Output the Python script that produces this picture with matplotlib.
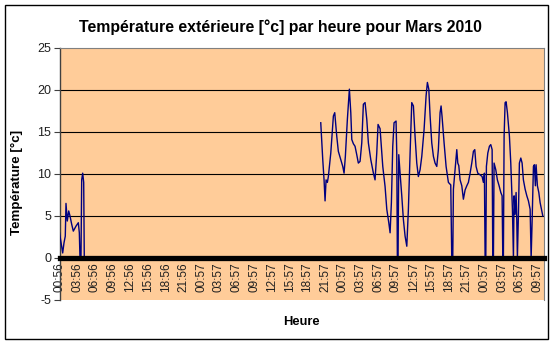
import matplotlib
matplotlib.use("Agg")
import matplotlib.pyplot as plt
import numpy as np
from matplotlib.patches import Rectangle

plt.rcParams["font.family"] = ["Liberation Sans", "DejaVu Sans"]
plt.rcParams["axes.unicode_minus"] = False

# hours since the first reading (00:56), temperatures
HOURS_A = [0.0, 0.54, 0.76, 0.98, 1.1, 1.32, 1.56, 1.78, 2.07, 2.34, 2.8, 3.19,
           3.36, 3.47, 3.64, 3.76, 3.93, 4.1, 4.2]
TEMPS_A = [3.0, 0.6, 1.8, 2.6, 6.5, 4.4, 5.6, 5.0, 4.0, 3.2, 3.8, 4.2,
           3.0, 0.0, 0.0, 9.3, 10.1, 9.0, 0.0]

HOURS_B = [44.27, 44.61, 44.83, 45.0, 45.17, 45.39, 45.56, 45.97, 46.41, 46.64,
           46.98, 47.25, 47.66, 48.0, 48.22, 48.44, 48.78, 49.12, 49.36, 49.53,
           49.8, 50.08, 50.37, 50.64, 50.93, 51.22, 51.49, 51.78, 52.07, 52.34,
           52.75, 53.19, 53.47, 53.76, 53.98, 54.32, 54.49, 54.78, 55.17, 55.46,
           55.8, 56.02, 56.24, 56.47, 56.69, 57.03, 57.15, 57.25, 57.37, 57.49,
           57.71, 58.0, 58.27, 58.56, 58.85, 59.12, 59.41, 59.69, 59.97, 60.25,
           60.54, 60.81, 61.1, 61.39, 61.78, 62.12, 62.34, 62.58, 62.8, 63.08,
           63.36, 63.64, 63.93, 64.2, 64.49, 64.66, 64.83, 65.17, 65.51, 65.9,
           66.3, 66.47, 66.64, 66.75, 67.03, 67.32, 67.49, 67.66, 67.88, 68.17,
           68.44, 68.73, 69.02, 69.29, 69.58, 69.86, 70.14, 70.37, 70.59, 70.88,
           71.27, 71.61, 71.83, 72.0, 72.12, 72.24, 72.34, 72.58, 72.85, 73.08,
           73.31, 73.42, 73.53, 73.64, 73.93, 74.2, 74.49, 74.78, 75.0, 75.12,
           75.22, 75.34, 75.51, 75.68, 75.9, 76.24, 76.47, 76.75, 76.92, 77.03,
           77.2, 77.37, 77.49, 77.59, 77.76, 77.93, 78.17, 78.39, 78.61, 78.9,
           79.19, 79.46, 79.75, 79.92, 80.08, 80.31, 80.47, 80.64, 80.76, 80.98,
           81.22, 81.44, 81.78, 81.9]
TEMPS_B = [16.1, 11.7, 9.3, 6.8, 9.3, 9.0, 9.7, 12.5, 16.9, 17.3,
           14.5, 12.7, 11.7, 10.9, 10.1, 12.1, 16.5, 20.1, 17.3, 14.1,
           13.6, 13.3, 12.3, 11.3, 11.5, 13.7, 18.3, 18.5, 16.5, 13.7,
           11.7, 10.1, 9.3, 12.5, 15.9, 15.4, 13.7, 10.9, 8.5, 5.8,
           4.2, 3.0, 6.6, 13.3, 16.1, 16.3, 12.5, 0.0, 0.0, 12.3,
           10.1, 7.4, 4.6, 2.6, 1.4, 5.8, 12.5, 18.5, 18.1, 14.5,
           11.3, 9.7, 10.5, 12.1, 15.3, 19.3, 20.9, 20.1, 16.9, 13.7,
           12.1, 11.3, 10.9, 12.9, 17.3, 18.1, 16.8, 13.7, 10.9, 9.0,
           8.7, 0.0, 0.0, 8.2, 10.5, 12.9, 11.3, 11.0, 9.3, 8.6,
           7.0, 8.1, 8.6, 9.0, 10.1, 11.3, 12.7, 12.9, 10.9, 10.1,
           9.9, 9.7, 9.0, 10.1, 0.0, 0.0, 10.9, 12.5, 13.3, 13.5,
           12.9, 0.0, 0.0, 11.3, 10.5, 9.3, 8.6, 7.8, 7.4, 0.0,
           0.0, 14.5, 18.5, 18.6, 17.3, 14.5, 11.3, 5.8, 0.0, 7.4,
           5.2, 7.8, 4.4, 0.0, 5.0, 11.3, 11.9, 11.3, 9.3, 8.2,
           7.4, 6.8, 5.8, 0.0, 4.2, 10.9, 11.1, 8.6, 11.1, 8.6,
           7.8, 6.6, 5.4, 5.0]

TICK_LABELS = ["00:56", "03:56", "06:56", "09:56", "12:56", "15:56", "18:56", "21:56",
               "00:57", "03:57", "06:57", "09:57", "12:57", "15:57", "18:57", "21:57",
               "00:57", "03:57", "06:57", "09:57", "12:57", "15:57", "18:57", "21:57",
               "00:57", "03:57", "06:57", "09:57"]
TICK_HOURS = np.arange(len(TICK_LABELS)) * 3

fig = plt.figure(figsize=(5.55, 3.44), dpi=100)
fig.patch.set_facecolor("white")
fig.patches.append(Rectangle((5 / 555, 5 / 344), 543 / 555, 334 / 344, transform=fig.transFigure,
                             fill=False, edgecolor="black", lw=1.0))

ax = fig.add_axes([59.5 / 555, 44 / 344, 484.5 / 555, 252 / 344])
ax.set_facecolor("#FFCC99")

hours = HOURS_A + [np.nan] + HOURS_B
temps = TEMPS_A + [np.nan] + TEMPS_B
ax.plot(hours, temps, color="#000080", lw=1.0, zorder=3)

ax.set_xlim(0, 82.1)
ax.set_ylim(-5, 25)
ax.set_yticks(range(-5, 26, 5))
for v in range(5, 25, 5):
    ax.axhline(v, color="black", lw=0.8, zorder=1)

ax.spines["bottom"].set_position(("data", 0))
ax.spines["bottom"].set_linewidth(3.8)
ax.spines["bottom"].set_color("black")
ax.spines["bottom"].set_zorder(4)
ax.spines["left"].set_color("#404040")
ax.spines["left"].set_linewidth(1.0)
ax.spines["top"].set_color("#808080")
ax.spines["right"].set_color("#808080")
ax.spines["top"].set_linewidth(0.8)
ax.spines["right"].set_linewidth(0.8)

ax.set_xticks(TICK_HOURS)
ax.set_xticklabels(TICK_LABELS, rotation=90, fontsize=8.5, color="#202020")
ax.tick_params(axis="x", length=0, pad=3)
ax.tick_params(axis="y", length=4, color="#404040", labelsize=9, labelcolor="#202020", pad=2)

fig.text(0.505, 1 - 27 / 344, "Température extérieure [°c] par heure pour Mars 2010",
         ha="center", va="center", fontsize=11.4, fontweight="bold")
fig.text(301 / 555, 1 - 322 / 344, "Heure", ha="center", va="center",
         fontsize=9.3, fontweight="bold")
fig.text(17 / 555, 1 - 182 / 344, "Température [°c]", ha="center", va="center",
         rotation=90, fontsize=9.6, fontweight="bold")

fig.savefig("out.png", dpi=100, facecolor="white")
